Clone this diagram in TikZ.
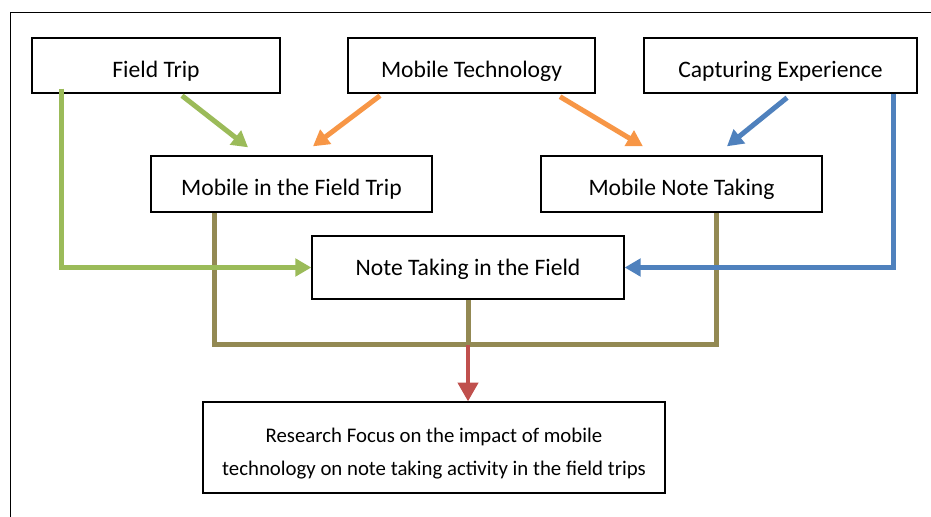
\documentclass[tikz,border=0pt]{standalone}
\usepackage{fontspec}
\setmainfont{Carlito}
\usetikzlibrary{arrows.meta}
\definecolor{tripgreen}{HTML}{9BBB59}
\definecolor{techorange}{HTML}{F79646}
\definecolor{capblue}{HTML}{4F81BD}
\definecolor{joinolive}{HTML}{938953}
\definecolor{focusred}{HTML}{C0504D}
\tikzset{
  topicbox/.style={
    draw=black,
    line width=1pt,
    fill=white,
    inner sep=0pt,
    align=center,
    text height=17.6pt,
    text depth=0pt,
    font={\fontsize{17.7}{24.75}\selectfont}
  },
  flowline/.style={
    line width=3.75pt
  },
  flowarrow/.style={
    flowline,
    -{Triangle[length=12pt,width=13pt]}
  }
}

\begin{document}
\begin{tikzpicture}[x=0.75pt,y=-0.75pt]
\useasboundingbox (0,0) rectangle (931,517);
\draw[line width=1.1pt] (10.5,530) |- (945,12.5);
\node[topicbox,minimum width=186pt,minimum height=41.25pt] (trip) at (156,65.5) {Field Trip};
\node[topicbox,minimum width=185.25pt,minimum height=41.25pt] (mobtech) at (471.5,65.5) {Mobile Technology};
\node[topicbox,minimum width=204.75pt,minimum height=41.25pt] (capture) at (780.5,65.5) {Capturing Experience};
\node[topicbox,minimum width=210.75pt,minimum height=42pt] (mobtrip) at (291.5,184) {Mobile in the Field Trip};
\node[topicbox,minimum width=210.75pt,minimum height=42pt] (mobnote) at (681.5,184) {Mobile Note Taking};
\node[topicbox,minimum width=234pt,minimum height=47.25pt,text height=12.4pt] (notefield) at (468,267.5) {Note Taking in the Field};
\node[topicbox,minimum width=346.5pt,minimum height=68.25pt,text height=41.3pt,
  font={\fontsize{15.6}{24.75}\selectfont}] (focus) at (434,447.5)
  {Research Focus on the impact of mobile\\technology on note taking activity in the field trips};
\coordinate (join) at ([yshift=-33.75pt]notefield.south);
\draw[flowarrow,tripgreen] ([xshift=19.5pt,yshift=-1.5pt]trip.south) -- ([xshift=-32.6pt,yshift=6pt]mobtrip.north);
\draw[flowarrow,techorange] ([xshift=-68.6pt,yshift=-1.5pt]mobtech.south) -- ([xshift=16.1pt,yshift=6.75pt]mobtrip.north);
\draw[flowarrow,techorange] ([xshift=66.4pt,yshift=-2.25pt]mobtech.south) -- ([xshift=-28.9pt,yshift=6.75pt]mobnote.north);
\draw[flowarrow,capblue] ([xshift=4.9pt,yshift=-3pt]capture.south) -- ([xshift=34.1pt,yshift=6.75pt]mobnote.north);
\draw[flowline,joinolive] ([xshift=48pt,yshift=-0.5pt]mobtrip.south west) |- (join) -| ([xshift=132pt,yshift=-0.5pt]mobnote.south west);
\draw[flowline,joinolive] ([yshift=-0.5pt]notefield.south) -- (join);
\draw[flowarrow,tripgreen] ([xshift=22.5pt,yshift=3.75pt]trip.south west) |- (notefield.west);
\draw[flowarrow,capblue] ([xshift=-18pt]capture.south east) |- (notefield.east);
\draw[flowarrow,focusred,line width=3pt,-{Triangle[length=14pt,width=15pt]}] (join) -- (join |- focus.north);
\end{tikzpicture}
\end{document}
